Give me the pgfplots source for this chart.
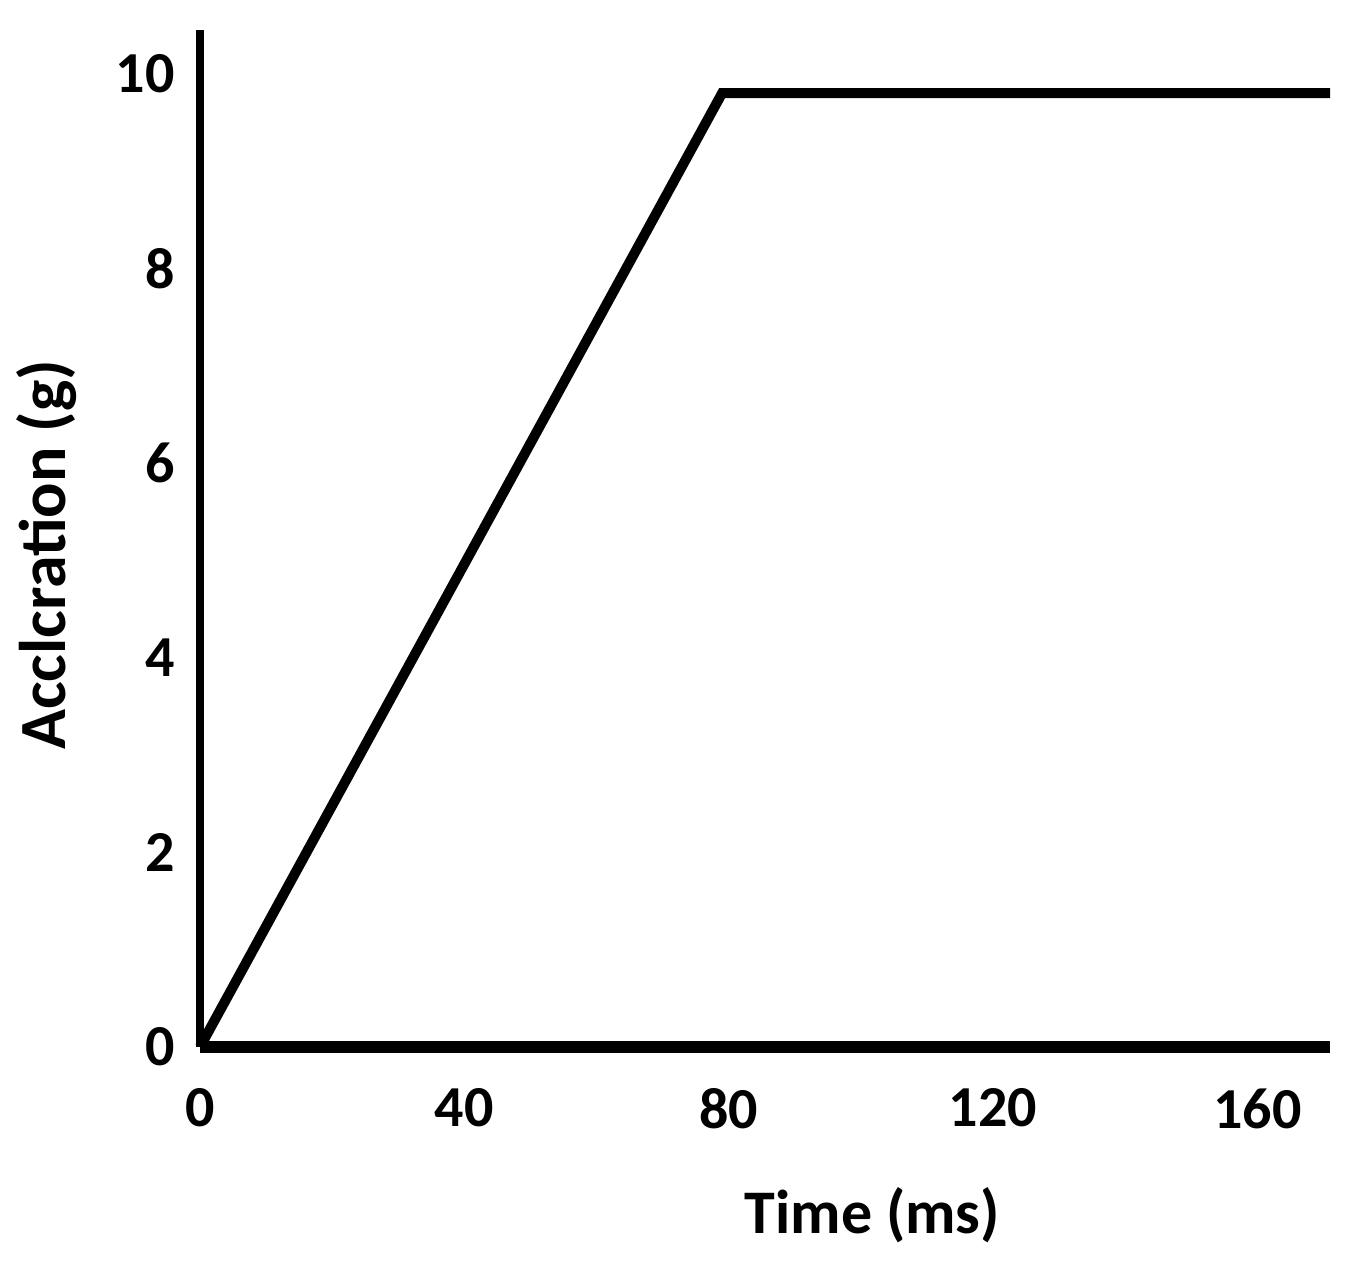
\documentclass[border=0pt]{standalone}
\usepackage{fontspec}
\setmainfont{Carlito}
\usepackage{pgfplots}
\pgfplotsset{compat=1.18}
\begin{document}
\begin{tikzpicture}
\path[use as bounding box] (-200pt,-219pt) rectangle (1146pt,1047pt);
\begin{axis}[
  at={(0pt,0pt)}, anchor=south west,
  scale only axis, width=1130pt, height=1017pt,
  xmin=0, xmax=171, ymin=0, ymax=10.45,
  axis lines*=left,
  x axis line style={line width=12pt, line cap=butt},
  y axis line style={line width=8pt, line cap=butt},
  major tick length=0pt,
  xtick={0,40,80,120,160},
  ytick={0,2,4,6,8,10},
  /pgf/number format/assume math mode=true,
  tick label style={font=\fontsize{58}{60}\selectfont\bfseries},
  xticklabel style={yshift=-38pt},
  yticklabel style={xshift=-22pt},
  xlabel={Time (ms)},
  ylabel={Acclcration (g)},
  xlabel style={font=\fontsize{62}{64}\selectfont\bfseries, at={(axis description cs:0.595,-0.183)}, anchor=base},
  ylabel style={font=\fontsize{66}{68}\selectfont\bfseries, at={(axis description cs:-0.119,0.484)}, anchor=base},
  clip=false,
]
\addplot[black, line width=10pt, line join=miter, line cap=butt] coordinates {(0,0) (79,9.8) (171,9.8)};
\end{axis}
\end{tikzpicture}
\end{document}
